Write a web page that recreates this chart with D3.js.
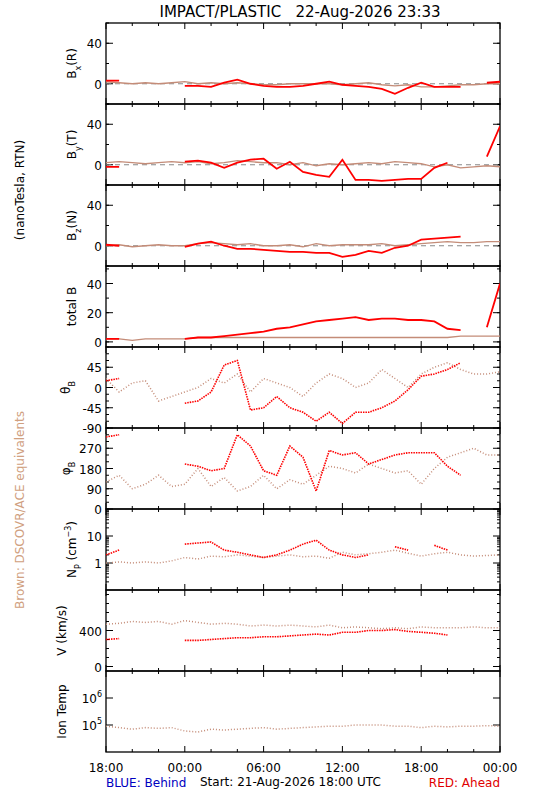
<!DOCTYPE html>
<html><head><meta charset="utf-8">
<script src="https://cdn.jsdelivr.net/npm/d3@7"></script>
<style>body{margin:0;background:#fff}text{font-family:"DejaVu Sans",sans-serif}</style>
</head><body><svg id="c" width="550" height="800"></svg>
<script>
// hourly samples, hour 0 = 21-Aug 18:00 ... hour 30 = 23-Aug 00:00
const hours = d3.range(0,31);
const xTickLabels = ["18:00","00:00","06:00","12:00","18:00","00:00"];
const N=null;
const bxRed   = [3,3,N,N,N,N,-2,-2,-3,1,4,0,-2,-3,-3,-2,0,2,-1,-2,-3,-5,-10,-4,1,-3,-3,-3,N,1,2];
const bxBrown = [2,1,0,1,0,1,2,0,1,0,1,0,-1,-1,0,0,0,0,-1,0,1,-1,-2,-1,-3,-3,-2,-1,-1,0,0];
const byRed   = [-2,-2,N,N,N,N,3,4,2,-3,2,5,6,-4,3,-7,-10,-12,5,-15,-15,-16,-15,-14,-14,-3,2,N,N,8,38];
const byBrown = [2,3,2,1,2,3,2,3,1,2,4,3,2,2,0,2,-1,1,0,1,2,1,3,2,1,-2,0,-3,-2,-1,-2];
const bzRed   = [1,0,N,N,N,N,-1,2,4,0,-3,-3,-4,-5,-6,-6,-7,-7,-11,-9,-5,-7,-2,0,6,7,8,9,N,N,5];
const bzBrown = [0,1,-1,0,1,0,0,2,3,2,1,2,0,0,1,-1,2,0,1,1,1,2,0,1,2,3,4,3,3,4,4];
const btRed   = [2,2,N,N,N,N,2,3,3,4,5,6,7,9,10,12,14,15,16,17,15,16,16,15,15,14,9,8,N,10,40];
const btBrown = [2,2,1,2,2,2,2,3,3,3,3,3,3,3,3,3,3,3,3,3,3,3,3,3,3,3,3,4,4,4,4];
const thRed   = [15,20,N,N,N,N,-35,-30,-10,50,60,-50,-45,-20,-45,-55,-75,-55,-80,-55,-55,-45,-30,-5,25,30,40,55,N,N,40];
const thBrown = [20,-10,10,15,-30,-20,-10,0,20,10,30,-10,20,10,0,-20,10,30,20,0,10,40,20,0,30,45,55,40,30,30,35];
const phRed   = [320,330,N,N,N,N,200,190,170,180,330,280,170,150,280,230,80,260,240,250,200,220,240,250,250,250,190,150,N,N,90];
const phBrown = [120,150,90,110,150,100,110,180,100,140,80,100,150,90,130,110,150,190,180,160,200,180,160,170,110,180,230,250,270,240,240];
const npRed   = [2,3,N,N,N,N,5,5.5,6,3,2.5,2,1.6,2,3,5,7,3,2,1.6,2,N,4,3,N,4.5,3,N,N,N,N];
const npBrown = [1,1.1,1,1.1,1,1.2,1.6,1.4,1.8,1.7,2,1.8,1.6,1.8,2,1.7,1.8,1.5,2.5,2,2.2,2.5,3,2.3,1.8,2.2,2.5,2,1.8,1.9,2];
const vRed    = [300,310,N,N,N,N,290,290,300,310,320,320,330,330,340,350,360,350,380,380,400,400,410,390,380,370,350,N,N,N,N];
const vBrown  = [470,480,500,490,500,470,510,490,470,480,470,450,460,450,460,450,440,460,430,440,430,420,430,420,440,430,430,430,440,430,430];
const tBrown  = [9e4,8e4,7e4,8e4,7.5e4,8e4,6e4,5.5e4,7e4,6.5e4,7e4,7.5e4,8e4,7e4,7.5e4,8e4,8.5e4,9e4,9e4,1e5,1e5,1e5,9e4,9e4,8e4,9e4,8.5e4,9e4,9e4,9.5e4,9e4];

const RED="#ff0000", BROWN="#c48c78";
const svg=d3.select("#c");
const L=106,R=500,top0=23,ph=81;
const x=d3.scaleLinear().domain([0,30]).range([L,R]);

const panels=[
 {lab:["B","x","(R)"],lx:76,dom:[-20,60],maj:[0,40],min:d3.range(-20,61,20),red:bxRed,brown:bxBrown,zero:true},
 {lab:["B","y","(T)"],lx:76,dom:[-20,60],maj:[0,40],min:d3.range(-20,61,20),red:byRed,brown:byBrown,zero:true},
 {lab:["B","z","(N)"],lx:76,dom:[-20,60],maj:[0,40],min:d3.range(-20,61,20),red:bzRed,brown:bzBrown,zero:true},
 {lab:["total B"],lx:76,dom:[-3.5,52],maj:[0,20,40],min:d3.range(0,51,10),red:btRed,brown:btBrown},
 {lab:["θ","B",""],lx:70,dom:[-90,90],maj:[-90,-45,0,45],min:d3.range(-90,91,15),red:thRed,brown:thBrown,dots:true},
 {lab:["φ","B",""],lx:70,dom:[0,360],maj:[0,90,180,270],min:d3.range(0,361,30),red:phRed,brown:phBrown,dots:true},
 {lab:["N","P"," (cm","−3",")"],lx:76,log:true,dom:[0.1,100],maj:[1,10],min:[0.2,0.3,0.4,0.5,0.6,0.7,0.8,0.9,2,3,4,5,6,7,8,9,20,30,40,50,60,70,80,90],red:npRed,brown:npBrown,dots:true},
 {lab:["V (km/s)"],lx:66,dom:[-50,850],maj:[0,400],min:d3.range(0,801,100),red:vRed,brown:vBrown,dots:true},
 {lab:["Ion Temp"],lx:66,log:true,dom:[1e4,1e7],maj:[1e5,1e6],min:[],red:null,brown:tBrown,dots:true,pow:true}
];

panels.forEach((p,i)=>{
  const y0=top0+i*ph, y1=y0+ph;
  const y=(p.log?d3.scaleLog():d3.scaleLinear()).domain(p.dom).range([y1,y0]);
  const g=svg.append("g");
  g.append("rect").attr("x",L).attr("y",y0).attr("width",R-L).attr("height",ph).attr("fill","none").attr("stroke","#000").attr("stroke-width",1.3);
  d3.range(0,31,2).forEach(h=>{
    const len=h%6===0?6:3;
    g.append("line").attr("x1",x(h)).attr("x2",x(h)).attr("y1",y1).attr("y2",y1-len).attr("stroke","#000");
    g.append("line").attr("x1",x(h)).attr("x2",x(h)).attr("y1",y0).attr("y2",y0+len).attr("stroke","#000");
  });
  p.min.forEach(v=>{ if(v<p.dom[0]||v>p.dom[1])return;
    [[L,L+3],[R,R-3]].forEach(([a,b])=>g.append("line").attr("x1",a).attr("x2",b).attr("y1",y(v)).attr("y2",y(v)).attr("stroke","#000"));});
  p.maj.forEach(v=>{
    [[L,L+7],[R,R-7]].forEach(([a,b])=>g.append("line").attr("x1",a).attr("x2",b).attr("y1",y(v)).attr("y2",y(v)).attr("stroke","#000"));
    const t=g.append("text").attr("x",L-4).attr("y",y(v)+5).attr("text-anchor","end").attr("font-size",12);
    if(p.pow){t.text("10");t.append("tspan").attr("dy",-6).attr("font-size",8).text(Math.round(Math.log10(v)));}
    else t.text(v);
  });
  const lt=g.append("text").attr("transform",`translate(${p.lx},${(y0+y1)/2}) rotate(-90)`).attr("text-anchor","middle").attr("font-size",12);
  if(p.lab.length===1) lt.text(p.lab[0]);
  else {
    lt.append("tspan").text(p.lab[0]);
    lt.append("tspan").attr("dy",5).attr("font-size",8).text(p.lab[1]);
    lt.append("tspan").attr("dy",-5).text(p.lab[2]);
    if(p.lab.length>3){lt.append("tspan").attr("dy",-5).attr("font-size",8).text(p.lab[3]);lt.append("tspan").attr("dy",5).text(p.lab[4]);}
  }
  if(p.zero) g.append("line").attr("x1",L).attr("x2",R).attr("y1",y(0)).attr("y2",y(0)).attr("stroke","#888").attr("stroke-dasharray","5,4");
  const line=d3.line().defined(d=>d[1]!=null).x(d=>x(d[0])).y(d=>y(d[1]));
  const clip="clip"+i;
  svg.append("clipPath").attr("id",clip).append("rect").attr("x",L).attr("y",y0).attr("width",R-L).attr("height",ph);
  const draw=(arr,col,w,dash)=>{ if(!arr)return;
    g.append("path").attr("clip-path",`url(#${clip})`).attr("d",line(hours.map(h=>[h,arr[h]]))).attr("fill","none")
     .attr("stroke",col).attr("stroke-width",w).attr("stroke-dasharray",dash||null);};
  if(p.dots){ draw(p.brown,BROWN,1.5,"1,2"); draw(p.red,RED,1.6,"1.5,1"); }
  else { draw(p.brown,BROWN,1.3); draw(p.red,RED,1.8); }
});

xTickLabels.forEach((t,i)=>svg.append("text").attr("x",x(i*6)).attr("y",772).attr("text-anchor","middle").attr("font-size",12).text(t));
svg.append("text").attr("x",300).attr("y",17).attr("text-anchor","middle").attr("font-size",15).attr("xml:space","preserve").text("IMPACT/PLASTIC   22-Aug-2026 23:33");
svg.append("text").attr("x",106).attr("y",787).attr("font-size",12).attr("fill","#0000c0").text("BLUE: Behind");
svg.append("text").attr("x",200).attr("y",786).attr("font-size",12).text("Start: 21-Aug-2026 18:00 UTC");
svg.append("text").attr("x",500).attr("y",787).attr("text-anchor","end").attr("font-size",12).attr("fill","#e00000").text("RED: Ahead");
svg.append("text").attr("transform","translate(24,190) rotate(-90)").attr("text-anchor","middle").attr("font-size",12).text("(nanoTesla, RTN)");
svg.append("text").attr("transform","translate(24,510) rotate(-90)").attr("text-anchor","middle").attr("font-size",12).attr("fill","#d0a080").text("Brown: DSCOVR/ACE equivalents");
</script></body></html>
